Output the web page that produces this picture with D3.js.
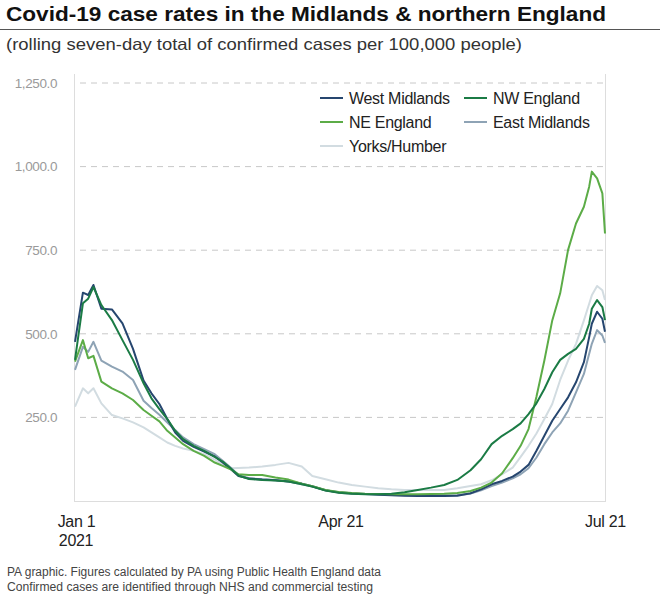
<!DOCTYPE html>
<html><head><meta charset="utf-8">
<script src="https://cdn.jsdelivr.net/npm/d3@7"></script>
<style>body{margin:0;background:#fff}svg{display:block}text{font-family:"Liberation Sans",Arial,sans-serif}</style>
</head><body>
<script>
// ---- DATA ----
const title = "Covid-19 case rates in the Midlands & northern England";
const subtitle = "(rolling seven-day total of confirmed cases per 100,000 people)";
const footer = ["PA graphic. Figures calculated by PA using Public Health England data",
                "Confirmed cases are identified through NHS and commercial testing"];
const xTickLabels = ["Jan 1", "Apr 21", "Jul 21"];
const yTicks = [250, 500, 750, 1000, 1250];
// day offset from 1 Jan 2021
const days = [0,3,5,7,10,14,18,22,26,29,32,35,38,41,45,49,53,56,59,62,66,71,76,81,86,90,95,100,105,110,115,120,125,130,135,140,145,150,154,158,162,166,169,172,175,178,181,184,187,190,193,195,196,198,200,201];
const westMidlands = [476,623,616,646,575,573,531,455,360,322,290,245,205,180,162,148,133,115,96,75,67,64,62,58,52,44,32,26,23,21,19,17,16,15,15,15,16,23,35,50,60,73,88,108,150,195,240,275,310,355,415,490,530,566,545,506];
const nwEngland = [422,591,605,640,586,541,481,422,352,307,275,245,210,185,165,150,132,118,98,76,66,63,61,58,50,43,31,25,22,20,20,22,26,33,40,48,63,92,125,170,195,215,232,260,292,335,385,422,440,455,485,530,575,601,580,541];
const eastMidlands = [392,461,446,476,420,402,387,362,300,278,258,235,212,190,170,155,140,120,100,78,68,65,63,58,50,43,32,25,22,21,20,18,17,17,17,17,18,22,32,45,55,68,80,98,130,170,205,232,270,325,380,440,470,511,495,473];
const neEngland = [417,481,427,434,357,337,322,302,272,255,238,210,190,170,150,135,115,105,95,80,78,78,70,64,52,44,33,27,24,22,21,20,20,20,21,22,24,30,40,55,83,128,165,215,312,420,540,621,751,830,880,940,985,965,920,800];
const yorksHumber = [282,337,322,337,292,257,247,235,220,205,190,175,165,157,150,140,124,108,98,99,100,103,108,114,103,75,65,55,48,43,38,35,33,33,33,33,38,45,50,62,80,100,132,165,202,245,290,362,420,470,540,590,615,643,630,601];

const seriesNames = ["West Midlands","NW England","NE England","East Midlands","Yorks/Humber"];
const seriesValues = [westMidlands, nwEngland, neEngland, eastMidlands, yorksHumber];
const seriesColors = ["#26466f","#1b7b45","#5cac47","#8ea3b5","#d2dce1"];
const drawOrder = [4,3,0,2,1];

// ---- CHART ----
const W = 660, H = 600;
const svg = d3.select("body").append("svg").attr("width", W).attr("height", H);

const x = d3.scaleLinear().domain([0, 201]).range([75, 605]);
const y = d3.scaleLinear().domain([0, 1250]).range([501, 83]);
const xLab = d3.scalePoint().domain(xTickLabels).range([76, 605]);

// title
svg.append("text").attr("x", 6).attr("y", 21).attr("font-size", 21).attr("font-weight", 700)
  .attr("fill", "#111").attr("textLength", 600).attr("lengthAdjust", "spacingAndGlyphs").text(title);
svg.append("line").attr("x1", 0).attr("x2", W).attr("y1", 29.5).attr("y2", 29.5)
  .attr("stroke", "#555").attr("stroke-width", 1);
svg.append("text").attr("x", 6).attr("y", 50).attr("font-size", 16.5).attr("fill", "#333")
  .attr("textLength", 516).attr("lengthAdjust", "spacingAndGlyphs").text(subtitle);

// frame
svg.append("line").attr("x1", 74.5).attr("x2", 74.5).attr("y1", 74).attr("y2", 501).attr("stroke", "#ddd");
svg.append("line").attr("x1", 605.5).attr("x2", 605.5).attr("y1", 74).attr("y2", 501).attr("stroke", "#ddd");
svg.append("line").attr("x1", 74).attr("x2", 606).attr("y1", 501.5).attr("y2", 501.5).attr("stroke", "#ddd");

// y grid + labels
const yAxis = d3.axisLeft(y).tickValues(yTicks).tickFormat(d3.format(",.1f")).tickSize(0).tickPadding(0);
const gy = svg.append("g").attr("transform", "translate(57,0)").call(yAxis);
gy.select(".domain").remove();
gy.selectAll("text").attr("font-size", 13.5).attr("fill", "#9a9a9a").attr("letter-spacing", -0.4)
  .attr("font-family", "Liberation Sans, Arial, sans-serif");
svg.append("g").selectAll("line").data(yTicks).join("line")
  .attr("x1", 80).attr("x2", 605).attr("y1", d => y(d)).attr("y2", d => y(d))
  .attr("stroke", "#c8c8c8").attr("stroke-dasharray", "6,5").attr("stroke-width", 1);

// x labels
const gx = svg.append("g").attr("transform", "translate(0,527)")
  .call(d3.axisBottom(xLab).tickSize(0).tickPadding(0));
gx.select(".domain").remove();
gx.selectAll("text").attr("font-size", 16).attr("fill", "#222").attr("dy", 0)
  .attr("font-family", "Liberation Sans, Arial, sans-serif").attr("letter-spacing", -0.3);
svg.append("text").attr("x", xLab("Jan 1")).attr("y", 546).attr("text-anchor", "middle")
  .attr("font-size", 16).attr("fill", "#222").attr("letter-spacing", -0.3).text("2021");

// lines
const line = d3.line().x((d, i) => x(days[i])).y(d => y(d));
svg.append("g").selectAll("path").data(drawOrder).join("path")
  .attr("d", k => line(seriesValues[k]))
  .attr("fill", "none").attr("stroke", k => seriesColors[k]).attr("stroke-width", 2)
  .attr("stroke-linejoin", "round");

// legend
const legPos = [[320, 98], [464, 98], [320, 122], [464, 122], [320, 146]];
const leg = svg.append("g").selectAll("g").data(seriesNames).join("g")
  .attr("transform", (d, i) => `translate(${legPos[i][0]},${legPos[i][1]})`);
leg.append("line").attr("x1", 0).attr("x2", 23).attr("y1", 0).attr("y2", 0)
  .attr("stroke", (d, i) => seriesColors[i]).attr("stroke-width", 2);
leg.append("text").attr("x", 29).attr("y", 5.5).attr("font-size", 16).attr("fill", "#222")
  .attr("letter-spacing", -0.3).text(d => d);

// footer
svg.append("g").selectAll("text").data(footer).join("text")
  .attr("x", 7).attr("y", (d, i) => 576 + i * 15).attr("font-size", 12).attr("fill", "#444")
  .attr("textLength", (d, i) => i === 0 ? 374 : 366).attr("lengthAdjust", "spacingAndGlyphs").text(d => d);
</script>
</body></html>
